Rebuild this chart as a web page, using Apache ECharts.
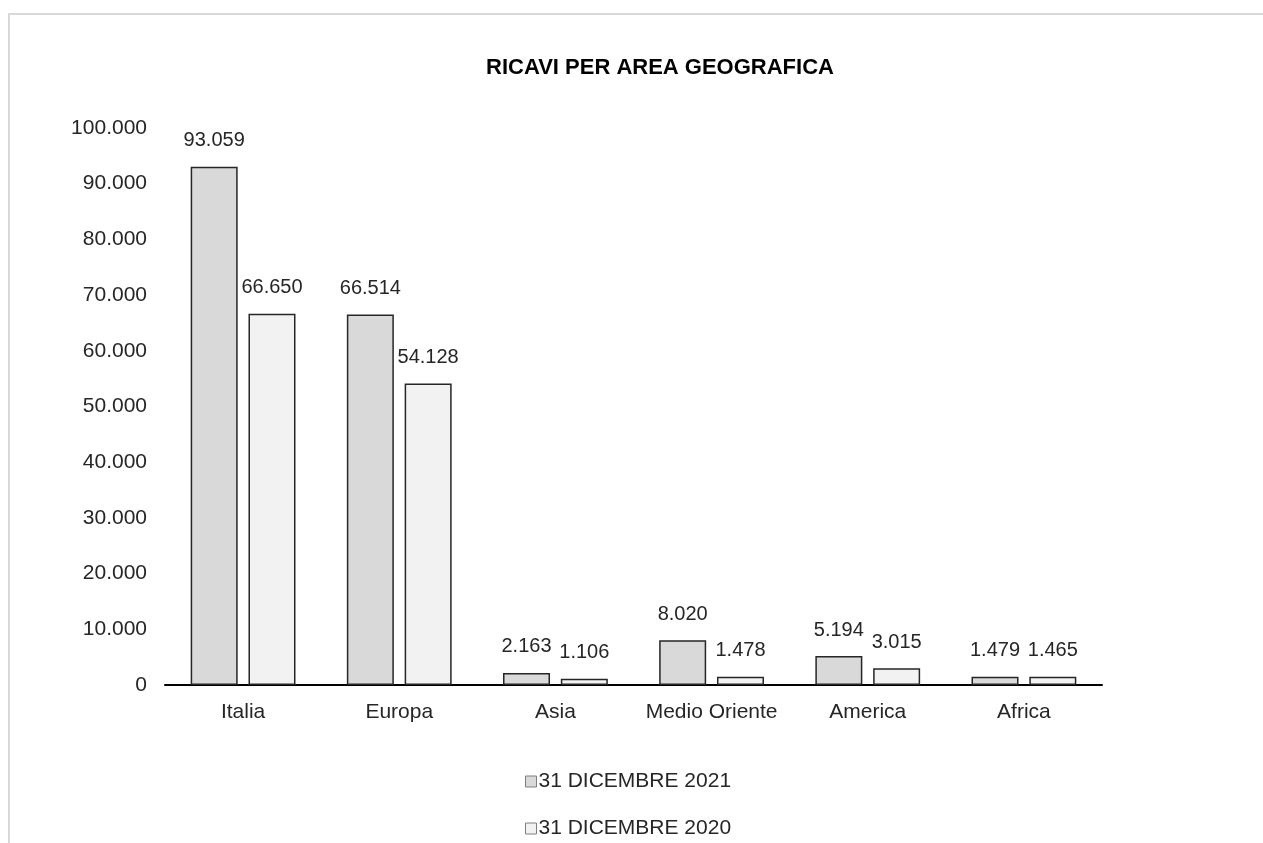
<!DOCTYPE html>
<html><head><meta charset="utf-8">
<script src="https://cdn.jsdelivr.net/npm/echarts@6/dist/echarts.min.js"></script>
<style>
html,body{margin:0;padding:0;background:#fff;}
#frame{position:absolute;left:8px;top:13px;width:1255px;height:830px;border-top:2px solid #d9d9d9;border-left:2px solid #d9d9d9;}
#c{position:absolute;left:0;top:0;width:1263px;height:843px;}
</style></head>
<body>
<div id="frame"></div>
<div id="c"></div>
<script>
const categories = ['Italia','Europa','Asia','Medio Oriente','America','Africa'];
const series2021 = [93059, 66514, 2163, 8020, 5194, 1479];
const series2020 = [66650, 54128, 1106, 1478, 3015, 1465];
const seriesNames = ['31 DICEMBRE 2021','31 DICEMBRE 2020'];
const titleText = 'RICAVI PER AREA GEOGRAFICA';

function fmt(v){ return String(v).replace(/\B(?=(\d{3})+(?!\d))/g,'.'); }
const font = 'Liberation Sans, Arial, sans-serif';
const chart = echarts.init(document.getElementById('c'), null, {renderer:'canvas'});
const lbl = {show:true, position:'top', distance:16, color:'#262626', fontSize:20, fontFamily:font, formatter:p=>fmt(p.value)};
function leg(name, top){
  return {orient:'horizontal', left:520, top:top, itemWidth:11, itemHeight:11,
    textStyle:{fontFamily:font, fontSize:21, color:'#262626', padding:[0,0,0,-3]},
    itemStyle:{borderColor:'#7f7f7f', borderWidth:1},
    data:[{name:name, icon:'rect'}]};
}
chart.setOption({
  backgroundColor:'transparent',
  animation:false,
  title:{text:titleText, left:481, top:52, textStyle:{fontFamily:font, fontSize:22, fontWeight:'bold', color:'#000'}},
  grid:{left:165, right:161, top:128, bottom:158, containLabel:false},
  legend:[leg(seriesNames[0], 766), leg(seriesNames[1], 813)],
  xAxis:{type:'category', data:categories,
    axisLine:{lineStyle:{color:'#000', width:2}}, axisTick:{show:false},
    axisLabel:{interval:0, fontFamily:font, fontSize:21, color:'#262626', margin:17}},
  yAxis:{type:'value', min:0, max:100000, interval:10000,
    axisLine:{show:false}, axisTick:{show:false}, splitLine:{show:false},
    axisLabel:{fontFamily:font, fontSize:21, color:'#262626', margin:18, formatter:v=>fmt(v)}},
  series:[
    {name:seriesNames[0], type:'bar', data:series2021, barWidth:47, barGap:'23%',
     itemStyle:{color:'#d9d9d9', borderColor:'#262626', borderWidth:1.5}, label:lbl},
    {name:seriesNames[1], type:'bar', data:series2020, barWidth:47,
     itemStyle:{color:'#f2f2f2', borderColor:'#262626', borderWidth:1.5}, label:lbl}
  ]
});
</script>
</body></html>
